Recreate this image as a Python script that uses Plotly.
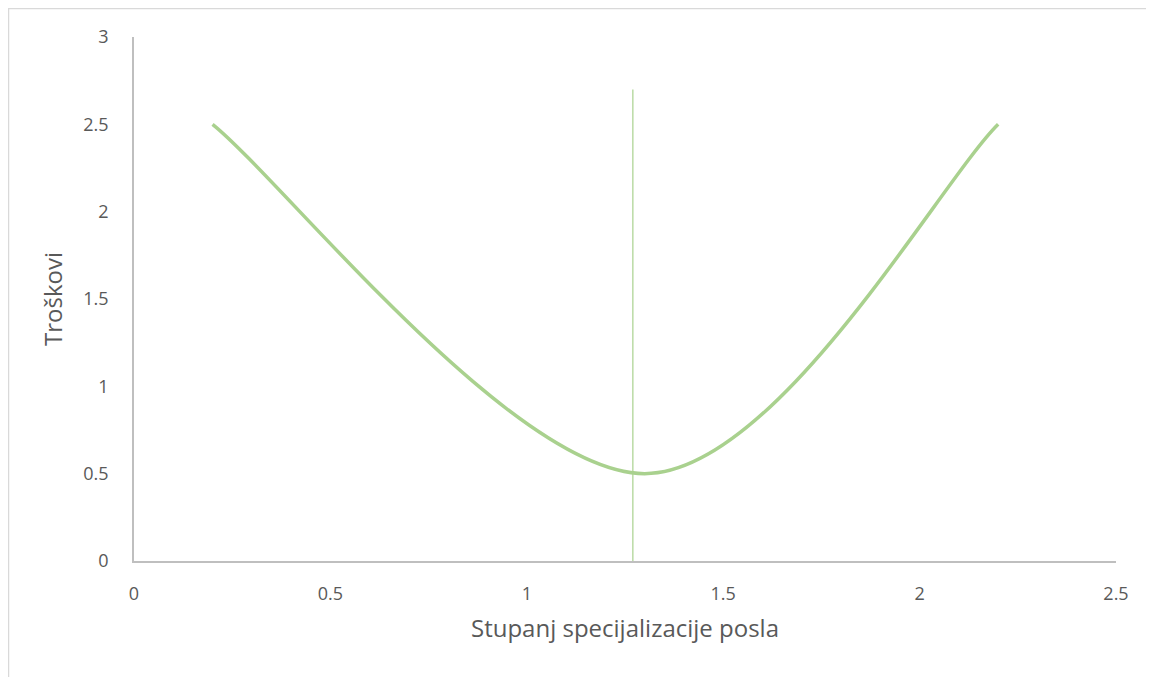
import plotly.graph_objects as go

# Data points of the cost curve (Excel-style smoothed line)
curve_x = [0.2, 1.3, 2.2]
curve_y = [2.5, 0.5, 2.5]
# Vertical marker line
vline_x = [1.27, 1.27]
vline_y = [0, 2.7]

x_ticks = [0, 0.5, 1, 1.5, 2, 2.5]
y_ticks = [0, 0.5, 1, 1.5, 2, 2.5, 3]

green = "#A9D18E"
text_col = "#595959"
font_family = "Open Sans"


def smooth_path(xs, ys):
    """Cubic Bezier path through the points using Excel's smoothing rule."""
    n = len(xs)
    px = [xs[0]] + list(xs) + [xs[-1]]
    py = [ys[0]] + list(ys) + [ys[-1]]
    d = f"M {xs[0]},{ys[0]}"
    for i in range(n - 1):
        j = i + 1
        c1x = px[j] + (px[j + 1] - px[j - 1]) / 6
        c1y = py[j] + (py[j + 1] - py[j - 1]) / 6
        c2x = px[j + 1] - (px[j + 2] - px[j]) / 6
        c2y = py[j + 1] - (py[j + 2] - py[j]) / 6
        d += f" C {c1x},{c1y} {c2x},{c2y} {px[j + 1]},{py[j + 1]}"
    return d


fig = go.Figure()
# invisible anchor trace carrying the data points
fig.add_trace(go.Scatter(x=curve_x, y=curve_y, mode="markers",
                         marker=dict(size=1, color="rgba(0,0,0,0)"),
                         hoverinfo="x+y", showlegend=False))
fig.add_trace(go.Scatter(x=vline_x, y=vline_y, mode="lines",
                         line=dict(color=green, width=1.2),
                         showlegend=False))

W, H = 1146, 669
L, R, T, B = 126, 38, 29, 116
pw, ph = W - L - R, H - T - B

fig.update_layout(
    width=W, height=H,
    margin=dict(l=L, r=R, t=T, b=B),
    paper_bgcolor="white", plot_bgcolor="white",
    font=dict(family=font_family, color=text_col, size=18),
    xaxis=dict(range=[0, 2.5], tickvals=x_ticks, ticktext=[f"{v:g}" for v in x_ticks],
               showgrid=False, zeroline=False,
               showline=True, linecolor="#BFBFBF", linewidth=1.5,
               ticks="", ticklabelstandoff=16, tickfont=dict(size=18, color=text_col),
               title=dict(text="Stupanj specijalizacije posla", font=dict(size=24, color=text_col), standoff=16)),
    yaxis=dict(range=[0, 3], tickvals=y_ticks, ticktext=[f"{v:g}" for v in y_ticks],
               showgrid=False, zeroline=False,
               showline=True, linecolor="#BFBFBF", linewidth=1.5,
               ticks="", ticklabelstandoff=20, tickfont=dict(size=18, color=text_col),
               title=dict(text="Troškovi", font=dict(size=24, color=text_col), standoff=14)),
    shapes=[
        dict(type="rect", xref="paper", yref="paper",
             x0=-(L - 0.5) / pw, x1=1.3, y0=-0.5, y1=1 + (T - 0.5) / ph,
             line=dict(color="#D9D9D9", width=1.5), fillcolor="rgba(0,0,0,0)", layer="below"),
        dict(type="path", xref="x", yref="y", path=smooth_path(curve_x, curve_y),
             line=dict(color=green, width=3.5), fillcolor="rgba(0,0,0,0)", layer="above"),
    ],
)

fig.write_html("out.html")
